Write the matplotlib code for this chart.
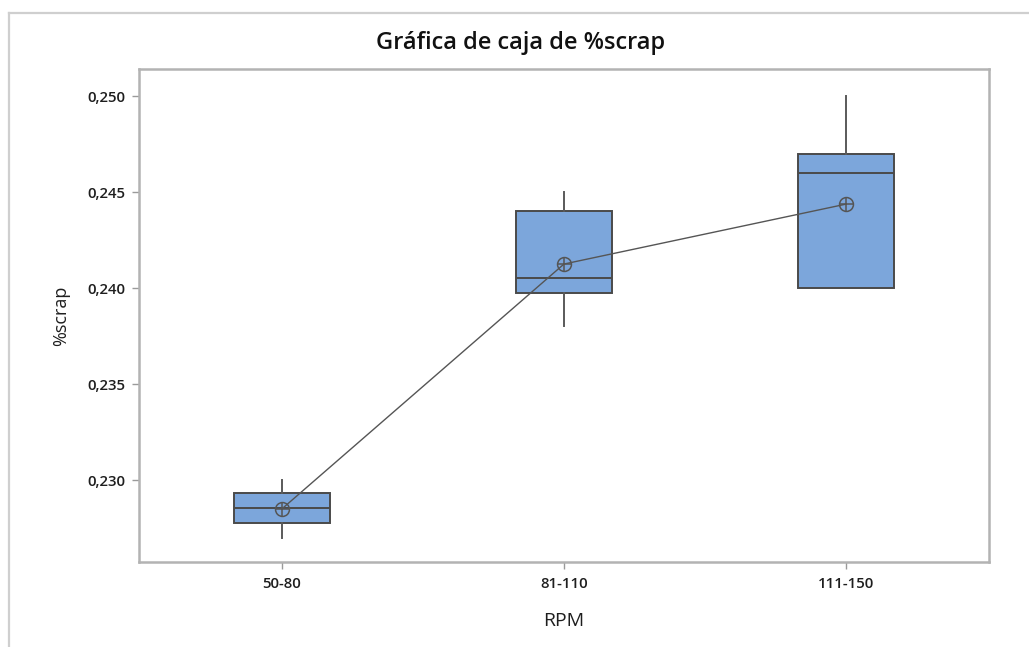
import matplotlib
matplotlib.use("Agg")
import matplotlib.pyplot as plt
from matplotlib.lines import Line2D

# Box summary statistics of %scrap per RPM group
categories = ["50-80", "81-110", "111-150"]
whisker_low = [0.2270, 0.2380, 0.2400]
q1_values = [0.22775, 0.23975, 0.2400]
medians = [0.22855, 0.24053, 0.2460]
q3_values = [0.22932, 0.24400, 0.2470]
whisker_high = [0.2300, 0.2450, 0.2500]
means = [0.2285, 0.24125, 0.24437]
y_ticks = [0.230, 0.235, 0.240, 0.245, 0.250]

plt.rcParams["font.family"] = ["Open Sans", "DejaVu Sans"]

fig = plt.figure(figsize=(10.29, 6.47), dpi=100)
ax = fig.add_axes([0.1351, 0.1314, 0.8260, 0.7620])

stats = []
for i, cat in enumerate(categories):
    stats.append(dict(label=cat, whislo=whisker_low[i], q1=q1_values[i],
                      med=medians[i], q3=q3_values[i], whishi=whisker_high[i],
                      mean=means[i], fliers=[]))

positions = list(range(1, len(categories) + 1))
edge = "#4a4a4a"
ax.bxp(stats, positions=positions, widths=0.337, patch_artist=True,
       showcaps=False, showfliers=False, showmeans=False,
       boxprops=dict(facecolor="#7ca6db", edgecolor=edge, linewidth=1.4),
       medianprops=dict(color=edge, linewidth=1.4),
       whiskerprops=dict(color="#5a5a5a", linewidth=1.4))

# Line joining the group means, with circled-cross symbols
ax.plot(positions, means, color="#555555", linewidth=1.0, zorder=3)
ax.plot(positions, means, linestyle="none", marker="o", markersize=10,
        markerfacecolor="none", markeredgecolor="#555555", markeredgewidth=1.1, zorder=4)
ax.plot(positions, means, linestyle="none", marker="+", markersize=10,
        markeredgecolor="#555555", markeredgewidth=1.1, zorder=4)

ax.set_xlim(0.493, 3.507)
ax.set_ylim(0.22573, 0.25141)
ax.set_xticks(positions)
ax.set_xticklabels(categories)
ax.set_yticks(y_ticks)
ax.set_yticklabels([f"{v:.3f}".replace(".", ",") for v in y_ticks])
for lbl in ax.get_xticklabels() + ax.get_yticklabels():
    lbl.set_fontweight("semibold")

for s in ax.spines.values():
    s.set_color("#b3b3b3")
    s.set_linewidth(1.8)
ax.tick_params(axis="both", colors="#9a9a9a", length=5, width=1.0,
               labelcolor="#1e1e1e", labelsize=10.8, pad=5)
ax.tick_params(axis="x", pad=6)

ax.set_xlabel("RPM", fontsize=14, color="#1e1e1e", labelpad=15, fontweight="medium")
ax.set_ylabel("%scrap", fontsize=13, color="#1e1e1e", labelpad=12, fontweight="medium")
fig.text(0.506, 0.933, "Gráfica de caja de %scrap", ha="center", va="center",
         fontsize=17, fontweight="semibold", color="#111111")

# Outer graph frame
fig.add_artist(Line2D([9 / 1029, 9 / 1029], [0, 1 - 13 / 647], transform=fig.transFigure,
                      color="#cfcfcf", linewidth=1.6))
fig.add_artist(Line2D([9 / 1029, 1], [1 - 13 / 647, 1 - 13 / 647], transform=fig.transFigure,
                      color="#cfcfcf", linewidth=1.6))

fig.savefig("out.png", dpi=100)
